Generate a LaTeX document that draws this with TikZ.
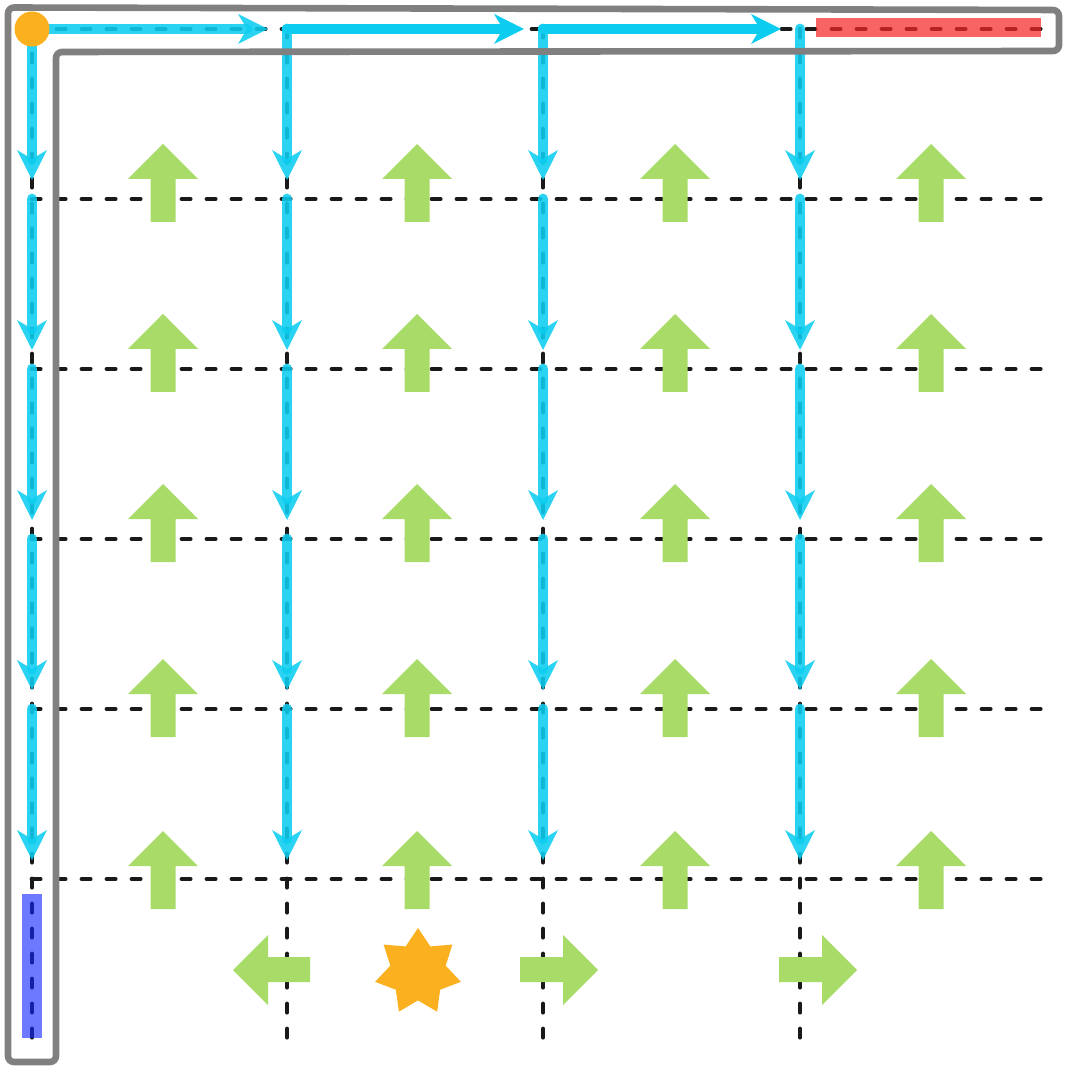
\documentclass[tikz,border=0pt]{standalone}
\usepackage{xcolor}
\usepackage{tikz}
\usetikzlibrary{positioning, arrows.meta, shapes.geometric}

\definecolor{pathblue}{RGB}{12,205,240}
\definecolor{leafgreen}{RGB}{168,219,104}
\definecolor{sunorange}{RGB}{251,176,32}
\definecolor{wallgray}{RGB}{128,128,128}
\definecolor{goalred}{RGB}{245,40,40}
\definecolor{baseblue}{RGB}{20,40,255}

\begin{document}
\begin{tikzpicture}[
  x=0.5pt, y=-0.5pt,
  lane/.style={line width=2.4pt, color=black!90, line cap=round, dash pattern=on 4.1pt off 8.4pt},
  route/.style={line width=5.4pt, color=pathblue, line cap=round, shorten >=9.5pt,
    -{Stealth[length=15pt, width=15pt, inset=4.5pt, line width=0pt]}},
  faderoute/.style={route, opacity=0.88},
  leaf/.style={fill=leafgreen},
  wall/.style={draw=wallgray, line width=3.3pt, rounded corners=3pt, line join=round},
  spawnpt/.style={circle, fill=sunorange, minimum size=17.5pt, inner sep=0pt},
  burst/.style={star, star points=7, star point ratio=1.55, fill=sunorange, minimum size=44pt, inner sep=0pt},
]
\useasboundingbox (0,0) rectangle (1075,1074);
\foreach \c/\x in {a/32,b/287,c/543,d/800}
  \foreach \r/\y in {0/29,1/199,2/369,3/539,4/709,5/879}
    \coordinate (\c\r) at (\x,\y);
\foreach \r/\y in {0/29,1/199,2/369,3/539,4/709,5/879}
  \coordinate (e\r) at (1043,\y);
\coordinate (a6) at (32,1040);
\foreach \c/\x in {b/287,c/543,d/800}
  \coordinate (\c6) at (\x,1043);
\foreach \r in {0,...,5}
  \draw[lane] (a\r) -- (e\r);
\foreach \c in {a,b,c,d}
  \draw[lane] (\c0) -- (\c6);
\fill[goalred, opacity=0.72] (816,18) rectangle (1041,37);
\fill[baseblue, opacity=0.62] (22,894) rectangle (42,1038);
\draw[faderoute] (a0) -- (b0);
\draw[route] (b0) -- (c0);
\draw[route] (c0) -- (d0);
\foreach \c in {a,b,c,d}
  \foreach \r/\nr in {0/1,1/2,2/3,3/4,4/5}
    \draw[faderoute] (\c\r) -- (\c\nr);
\foreach \x in {163,417,675,931}
  \foreach \t in {144,314,484,659,831}
    \fill[leaf] (\x-12.5,\t+78) -- (\x-12.5,\t+35) -- (\x-35,\t+35) -- (\x,\t)
      -- (\x+35,\t+35) -- (\x+12.5,\t+35) -- (\x+12.5,\t+78) -- cycle;
\fill[leaf] (310,957) -- (268,957) -- (268,935) -- (233,970) -- (268,1005) -- (268,982) -- (310,982) -- cycle;
\foreach \s in {520,779}
  \fill[leaf] (\s,957) -- (\s+43,957) -- (\s+43,935) -- (\s+78,970) -- (\s+43,1005) -- (\s+43,982) -- (\s,982) -- cycle;
\draw[wall] (8,7.5) -- (1059,10) -- (1059,51) -- (56,52) -- (56,1062) -- (8,1062) -- cycle;
\node[spawnpt] (spawn) at (a0) {};
\node[burst] (flash) at (418,972) {};
\end{tikzpicture}
\end{document}
